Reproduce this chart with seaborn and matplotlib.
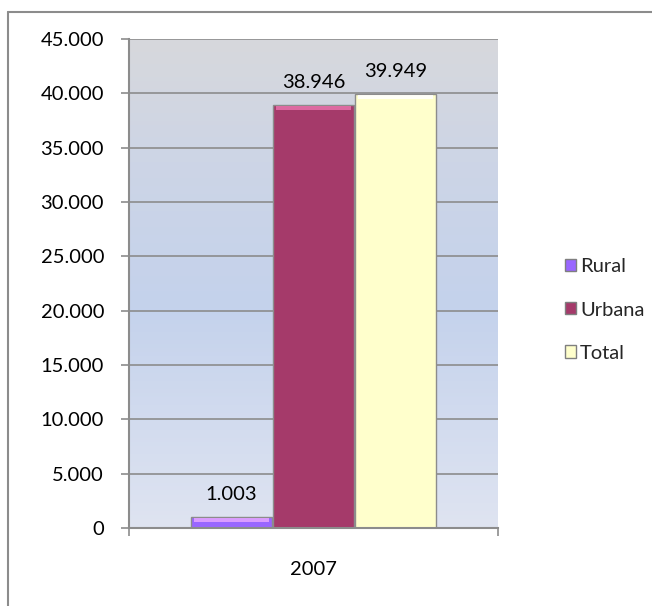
import numpy as np
import pandas as pd
import matplotlib
matplotlib.use("Agg")
import matplotlib.pyplot as plt
from matplotlib.colors import LinearSegmentedColormap
from matplotlib.patches import Patch, Rectangle
from matplotlib.lines import Line2D
from matplotlib.ticker import FuncFormatter
import seaborn as sns

# Population by area, 2007
years = ["2007"]
series = ["Rural", "Urbana", "Total"]
values = [1003, 38946, 39949]
colors = ["#9966ff", "#a53a6a", "#ffffcc"]
highlights = ["#e6a6ff", "#e873ab", "#ffffff"]
y_ticks = [0, 5000, 10000, 15000, 20000, 25000, 30000, 35000, 40000, 45000]

df = pd.DataFrame({"ano": years * len(series), "serie": series, "valor": values})

sns.set_theme(style="white")
plt.rcParams["font.family"] = ["Lato", "DejaVu Sans"]
FS = 14.5

fig = plt.figure(figsize=(6.52, 6.06), dpi=100)
ax = fig.add_axes([129 / 652, 1 - 528 / 606, (498 - 129) / 652, (528 - 39) / 606])

# gradient plot-area fill: grey at the top, blue in the middle, pale at the bottom
grad = LinearSegmentedColormap.from_list(
    "fill", [(0.0, "#dfe4f1"), (0.45, "#c4d2ec"), (0.75, "#cdd5e6"), (1.0, "#d7d8dc")])
ax.imshow(np.linspace(0, 1, 256).reshape(-1, 1), cmap=grad, origin="lower",
          extent=(-0.5, 0.5, 0, 45000), aspect="auto", zorder=0)

sns.barplot(data=df, x="ano", y="valor", hue="serie", palette=colors, saturation=1,
            width=0.667, gap=0.02, ax=ax, legend=False, zorder=3,
            edgecolor="#8c8c8c", linewidth=1.0)

ax.set_xlim(-0.5, 0.5)
ax.set_ylim(0, 45000)
ax.set_yticks(y_ticks)
ax.yaxis.set_major_formatter(FuncFormatter(lambda v, p: f"{v:,.0f}".replace(",", ".")))
ax.grid(axis="y", color="#8c8c8c", linewidth=1.2, zorder=1)
ax.set_axisbelow(True)
ax.set_xlabel("")
ax.set_ylabel("")

# bevelled top edge on each bar (a few pixels tall, sized from the axis scale)
px_per_unit = ax.get_position().height * fig.get_figheight() * fig.dpi / 45000
strip = 5 / px_per_unit
bars = list(ax.patches)
for patch, hl in zip(bars, highlights):
    x0, w, top = patch.get_x(), patch.get_width(), patch.get_height()
    ax.add_patch(Rectangle((x0 + w * 0.03, top - strip), w * 0.94, strip * 0.8,
                           facecolor=hl, edgecolor="none", alpha=0.85, zorder=3.5))

# x ticks on the category edges, label in the middle
ax.set_xticks([-0.5, 0.5])
ax.set_xticklabels(["", ""])
ax.set_xticks([0], minor=True)
ax.set_xticklabels(["2007"], minor=True)
ax.tick_params(axis="x", which="major", direction="out", length=6, width=1.2,
               color="#8c8c8c", bottom=True)
ax.tick_params(axis="x", which="minor", length=0, pad=24, labelsize=FS, labelcolor="black")
ax.tick_params(axis="y", direction="out", length=6, width=1.2, color="#8c8c8c",
               left=True, pad=12, labelsize=FS, labelcolor="black")

for side in ["top", "right"]:
    ax.spines[side].set_visible(False)
for side in ["left", "bottom"]:
    ax.spines[side].set_color("#8c8c8c")
    ax.spines[side].set_linewidth(1.5)
    ax.spines[side].set_zorder(4)

# value labels above each bar
for patch, val in zip(bars, values):
    cx = patch.get_x() + patch.get_width() / 2
    ax.annotate(f"{val:,.0f}".replace(",", "."), (cx, val), xytext=(0, 10),
                textcoords="offset points", ha="center", va="bottom", fontsize=FS,
                color="black", zorder=5)

handles = [Patch(facecolor=c, edgecolor="#7f7f7f", linewidth=1.0) for c in colors]
fig.legend(handles, series, loc="center left", bbox_to_anchor=(557 / 652, 1 - 310 / 606),
           frameon=False, fontsize=FS, handlelength=0.55, handleheight=0.55,
           handletextpad=0.2, labelspacing=1.3, borderaxespad=0)

# outer chart frame (top and left edges)
fig.add_artist(Line2D([8 / 652, 1], [1 - 12 / 606, 1 - 12 / 606], color="#8c8c8c",
                      linewidth=1.5, transform=fig.transFigure))
fig.add_artist(Line2D([8 / 652, 8 / 652], [1 - 12 / 606, 0], color="#8c8c8c",
                      linewidth=1.5, transform=fig.transFigure))

fig.savefig("out.png", dpi=100, facecolor="white")
